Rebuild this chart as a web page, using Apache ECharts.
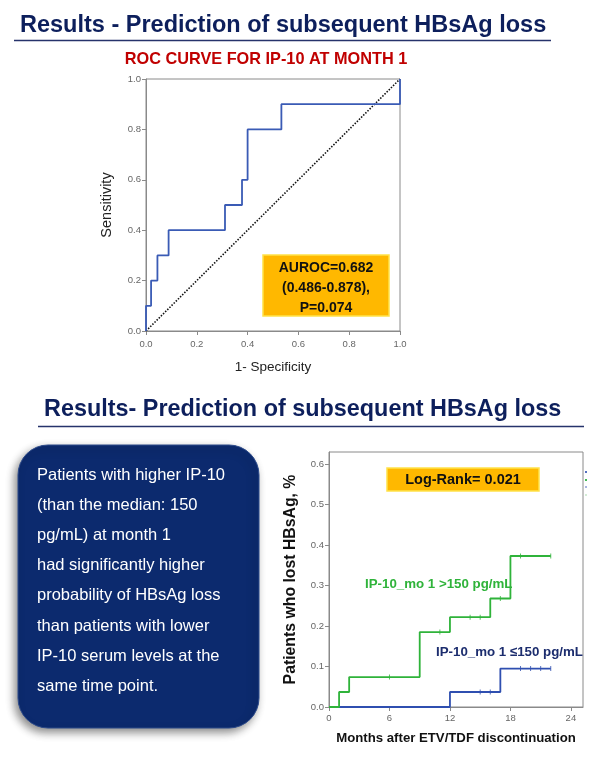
<!DOCTYPE html>
<html>
<head>
<meta charset="utf-8">
<script src="https://cdn.jsdelivr.net/npm/echarts@6/dist/echarts.min.js"></script>
<style>
html,body{margin:0;padding:0;background:#fff;}
#c{width:613px;height:771px;}
</style>
</head>
<body>
<div id="c"></div>
<script>
// ---- ROC data ----
var rocFpr = [0, 0, 0.02, 0.02, 0.045, 0.045, 0.089, 0.089, 0.311, 0.311, 0.378, 0.378, 0.4, 0.4, 0.533, 0.533, 1, 1];
var rocTpr = [0, 0.1, 0.1, 0.2, 0.2, 0.3, 0.3, 0.4, 0.4, 0.5, 0.5, 0.6, 0.6, 0.8, 0.8, 0.9, 0.9, 1];
var rocTicks = [0, 0.2, 0.4, 0.6, 0.8, 1.0];

// ---- Kaplan-Meier data ----
var highTimes = [0, 1, 2, 9, 12, 16, 18, 22];
var highValues = [0, 0.037, 0.074, 0.185, 0.222, 0.268, 0.373, 0.373];
var highCensor = [6, 11, 14, 15, 17, 19, 22];
var lowTimes = [0, 12, 17, 22];
var lowValues = [0, 0.037, 0.095, 0.095];
var lowCensor = [15, 16, 19, 20, 21, 22];
var kmXTicks = [0, 6, 12, 18, 24];
var kmYTicks = [0, 0.1, 0.2, 0.3, 0.4, 0.5, 0.6];

var bodyLines = [
  'Patients with higher IP-10',
  '(than the median: 150',
  'pg/mL) at month 1',
  'had significantly higher',
  'probability of HBsAg loss',
  'than patients with lower',
  'IP-10 serum levels at the',
  'same time point.'
];

function stepPoints(t, v) {
  var out = [[t[0], v[0]]];
  for (var i = 1; i < t.length; i++) {
    out.push([t[i], v[i - 1]]);
    out.push([t[i], v[i]]);
  }
  return out;
}
function stepAt(t, v, x) {
  var y = v[0];
  for (var i = 0; i < t.length; i++) { if (t[i] <= x) y = v[i]; }
  return y;
}
function censorPts(t, v, c) {
  return c.map(function (x) { return [x, stepAt(t, v, x)]; });
}

var FONT = '"Liberation Sans", Arial, sans-serif';
var NAVY = '#0d1f5c';
var GREEN = '#2fb33a';
var BLUE = '#2f4fb0';

var chart = echarts.init(document.getElementById('c'), null, {renderer: 'canvas'});

var axisCommon = {
  axisLine: {show: true, lineStyle: {color: '#8a8a8a', width: 1}},
  axisTick: {show: true, inside: false, length: 4, lineStyle: {color: '#8a8a8a'}},
  splitLine: {show: false},
  axisLabel: {color: '#666', fontSize: 9.5, fontFamily: FONT}
};

var option = {
  animation: false,
  backgroundColor: '#fff',
  grid: [
    {left: 146, top: 79, width: 254, height: 252, show: true, borderColor: '#8a8a8a', borderWidth: 1, backgroundColor: 'transparent'},
    {left: 329, top: 452, width: 254, height: 255, show: true, borderColor: '#8a8a8a', borderWidth: 1, backgroundColor: 'transparent'}
  ],
  xAxis: [
    Object.assign({}, axisCommon, {
      gridIndex: 0, type: 'value', min: 0, max: 1, interval: 0.2,
      name: '1- Specificity', nameLocation: 'middle', nameGap: 29,
      nameTextStyle: {color: '#222', fontSize: 13.5, fontFamily: FONT},
      axisLabel: {color: '#666', fontSize: 9.5, fontFamily: FONT, margin: 8,
        customValues: rocTicks, formatter: function (v) { return v.toFixed(1); }},
      axisTick: {show: true, length: 4, lineStyle: {color: '#8a8a8a'}, customValues: rocTicks}
    }),
    Object.assign({}, axisCommon, {
      gridIndex: 1, type: 'value', min: 0, max: 25.2,
      name: 'Months after ETV/TDF discontinuation', nameLocation: 'middle', nameGap: 25,
      nameTextStyle: {color: '#111', fontSize: 13.2, fontWeight: 'bold', fontFamily: FONT},
      axisLabel: {color: '#666', fontSize: 9.5, fontFamily: FONT, margin: 6,
        customValues: kmXTicks, formatter: function (v) { return String(v); }},
      axisTick: {show: true, length: 4, lineStyle: {color: '#8a8a8a'}, customValues: kmXTicks}
    })
  ],
  yAxis: [
    Object.assign({}, axisCommon, {
      gridIndex: 0, type: 'value', min: 0, max: 1, interval: 0.2,
      name: 'Sensitivity', nameLocation: 'middle', nameGap: 32,
      nameTextStyle: {color: '#222', fontSize: 14.5, fontFamily: FONT},
      axisLabel: {color: '#666', fontSize: 9.5, fontFamily: FONT, margin: 5,
        customValues: rocTicks, formatter: function (v) { return v.toFixed(1); }},
      axisTick: {show: true, length: 4, lineStyle: {color: '#8a8a8a'}, customValues: rocTicks}
    }),
    Object.assign({}, axisCommon, {
      gridIndex: 1, type: 'value', min: 0, max: 0.63,
      name: 'Patients who lost HBsAg, %', nameLocation: 'middle', nameGap: 30,
      nameTextStyle: {color: '#111', fontSize: 15.8, fontWeight: 'bold', fontFamily: FONT},
      axisLabel: {color: '#666', fontSize: 9.5, fontFamily: FONT, margin: 5,
        customValues: kmYTicks, formatter: function (v) { return v.toFixed(1); }},
      axisTick: {show: true, length: 4, lineStyle: {color: '#8a8a8a'}, customValues: kmYTicks}
    })
  ],
  series: [
    {
      type: 'line', xAxisIndex: 0, yAxisIndex: 0, name: 'Reference',
      data: [[0, 0], [1, 1]], symbol: 'none',
      lineStyle: {color: '#111', width: 1.6, type: [1.5, 1.5]}
    },
    {
      type: 'line', xAxisIndex: 0, yAxisIndex: 0, name: 'ROC',
      data: rocFpr.map(function (x, i) { return [x, rocTpr[i]]; }), symbol: 'none',
      lineStyle: {color: '#3a5bb5', width: 1.8}
    },
    {
      type: 'line', xAxisIndex: 1, yAxisIndex: 1, name: 'low',
      data: stepPoints(lowTimes, lowValues), symbol: 'none',
      lineStyle: {color: BLUE, width: 1.8}
    },
    {
      type: 'line', xAxisIndex: 1, yAxisIndex: 1, name: 'high',
      data: stepPoints(highTimes, highValues), symbol: 'none',
      lineStyle: {color: GREEN, width: 1.8}
    },
    {
      type: 'scatter', xAxisIndex: 1, yAxisIndex: 1,
      data: censorPts(lowTimes, lowValues, lowCensor),
      symbol: 'rect', symbolSize: [1, 5], itemStyle: {color: BLUE}
    },
    {
      type: 'scatter', xAxisIndex: 1, yAxisIndex: 1,
      data: censorPts(highTimes, highValues, highCensor),
      symbol: 'rect', symbolSize: [1, 5], itemStyle: {color: GREEN}
    }
  ],
  graphic: [
    // Top title
    {type: 'text', x: 20, y: 26, style: {text: 'Results - Prediction of subsequent HBsAg loss', font: 'bold 23.5px ' + FONT, fill: NAVY, verticalAlign: 'middle'}},
    {type: 'line', shape: {x1: 14, y1: 40.5, x2: 551, y2: 40.5}, style: {stroke: '#26336b', lineWidth: 1.5}},
    {type: 'text', x: 266, y: 60, style: {text: 'ROC CURVE FOR IP-10 AT MONTH 1', font: 'bold 16.3px ' + FONT, fill: '#c00000', align: 'center', verticalAlign: 'middle'}},
    // AUROC box
    {type: 'rect', shape: {x: 263, y: 255, width: 126, height: 61}, style: {fill: '#ffb800', stroke: '#ffe24a', lineWidth: 1.5}},
    {type: 'text', x: 326, y: 268, style: {text: 'AUROC=0.682', font: 'bold 14px ' + FONT, fill: '#111', align: 'center', verticalAlign: 'middle'}},
    {type: 'text', x: 326, y: 288, style: {text: '(0.486-0.878),', font: 'bold 14px ' + FONT, fill: '#111', align: 'center', verticalAlign: 'middle'}},
    {type: 'text', x: 326, y: 308, style: {text: 'P=0.074', font: 'bold 14px ' + FONT, fill: '#111', align: 'center', verticalAlign: 'middle'}},
    // Second title
    {type: 'text', x: 44, y: 410, style: {text: 'Results- Prediction of subsequent HBsAg loss', font: 'bold 23.4px ' + FONT, fill: NAVY, verticalAlign: 'middle'}},
    {type: 'line', shape: {x1: 38, y1: 426.5, x2: 584, y2: 426.5}, style: {stroke: '#26336b', lineWidth: 1.5}},
    // Text box
    {type: 'rect', shape: {x: 18, y: 445, width: 241, height: 283, r: 30},
      style: {fill: '#0c2a6e', stroke: '#2c4a8a', lineWidth: 1, shadowBlur: 8, shadowColor: 'rgba(0,0,0,0.45)', shadowOffsetX: -3, shadowOffsetY: 4}},
    {type: 'group', children: bodyLines.map(function (t, i) {
      return {type: 'text', x: 37, y: 475 + i * 30.2, style: {text: t, font: '16.5px ' + FONT, fill: '#ffffff', verticalAlign: 'middle'}};
    })},
    // Log-rank box
    {type: 'rect', shape: {x: 387, y: 468, width: 152, height: 23}, style: {fill: '#ffb800', stroke: '#ffe24a', lineWidth: 1.5}},
    {type: 'text', x: 463, y: 480, style: {text: 'Log-Rank= 0.021', font: 'bold 14.5px ' + FONT, fill: '#111', align: 'center', verticalAlign: 'middle'}},
    // Curve labels
    {type: 'text', x: 365, y: 584, style: {text: 'IP-10_mo 1 >150 pg/mL', font: 'bold 13.3px ' + FONT, fill: GREEN, verticalAlign: 'middle'}},
    {type: 'text', x: 436, y: 652, style: {text: 'IP-10_mo 1 \u2264150 pg/mL', font: 'bold 13.3px ' + FONT, fill: '#1c2d6e', verticalAlign: 'middle'}},
    // legend remnants
    {type: 'rect', shape: {x: 585, y: 471, width: 2, height: 2}, style: {fill: '#5570c0'}},
    {type: 'rect', shape: {x: 585, y: 479, width: 2, height: 2}, style: {fill: '#44bb55'}},
    {type: 'rect', shape: {x: 585, y: 486, width: 2, height: 2}, style: {fill: '#a8b4e0'}},
    {type: 'rect', shape: {x: 585, y: 494, width: 2, height: 2}, style: {fill: '#d4ecd6'}}
  ]
};
chart.setOption(option);
</script>
</body>
</html>
